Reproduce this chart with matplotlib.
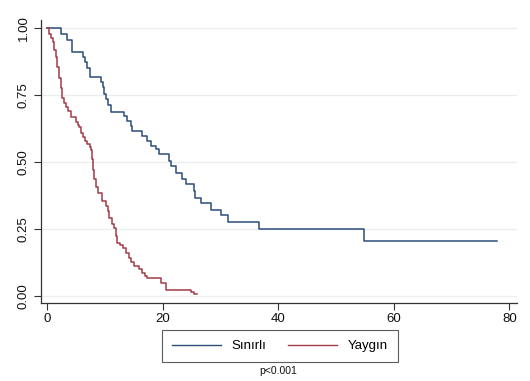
import matplotlib
matplotlib.use("Agg")
import matplotlib.pyplot as plt
from matplotlib.lines import Line2D

plt.rcParams['font.family'] = ['Liberation Sans', 'DejaVu Sans']

# Kaplan-Meier curves: event times and the survival estimate after each event,
# plus the time of last follow-up for each group
sinirli_t = [0, 2.4, 3.5, 4.3, 6.2, 6.6, 7.0, 7.5, 9.3, 9.7, 9.9, 10.2, 10.6, 11.1,
             13.4, 13.9, 14.5, 14.8, 16.5, 17.4, 18.0, 18.8, 19.4, 21.1, 21.5, 22.3,
             23.4, 24.0, 25.4, 25.7, 26.6, 28.4, 30.1, 31.4, 36.7, 54.8]
sinirli_s = [1.0, 0.979, 0.958, 0.912, 0.894, 0.875, 0.85, 0.819, 0.80, 0.78, 0.755,
             0.735, 0.713, 0.688, 0.672, 0.653, 0.634, 0.616, 0.597, 0.578, 0.559,
             0.547, 0.529, 0.504, 0.485, 0.46, 0.435, 0.416, 0.391, 0.366, 0.347,
             0.322, 0.30, 0.277, 0.248, 0.204]
sinirli_end = 77.8

yaygin_t = [0, 0.4, 0.7, 1.0, 1.3, 1.55, 1.8, 2.1, 2.4, 2.7, 3.0, 3.3, 3.7, 4.1, 5.0,
            5.3, 5.6, 5.9, 6.2, 6.6, 7.0, 7.4, 7.6, 7.8, 8.0, 8.2, 8.5, 8.8, 9.6, 10.2,
            10.5, 10.8, 11.2, 11.6, 11.9, 12.2, 12.6, 13.1, 13.6, 14.2, 14.6, 15.1,
            15.9, 16.5, 17.0, 17.4, 19.7, 20.6, 24.9, 25.4]
yaygin_s = [1.0, 0.98, 0.965, 0.95, 0.92, 0.894, 0.855, 0.813, 0.775, 0.738, 0.72,
            0.707, 0.69, 0.67, 0.65, 0.64, 0.63, 0.61, 0.593, 0.578, 0.567, 0.555,
            0.546, 0.51, 0.47, 0.435, 0.405, 0.385, 0.355, 0.335, 0.315, 0.292, 0.27,
            0.254, 0.225, 0.198, 0.19, 0.18, 0.161, 0.142, 0.125, 0.11, 0.099, 0.085,
            0.075, 0.065, 0.046, 0.021, 0.015, 0.006]
yaygin_end = 25.9

x_ticks = [0, 20, 40, 60, 80]
y_ticks = [0.0, 0.25, 0.50, 0.75, 1.00]
y_ticklabels = ["0.00", "0.25", "0.50", "0.75", "1.00"]
group_labels = ["Sınırlı", "Yaygın"]
p_text = "p<0.001"

blue = "#2b4d7a"
red = "#a33a47"

fig = plt.figure(figsize=(5.30, 3.81), dpi=100)
ax = fig.add_axes([0.0775, 0.2047, 0.898, 0.742])


def km_step(times, surv, end, color):
    ax.step(list(times) + [end], list(surv) + [surv[-1]], where='post',
            color=color, lw=1.1)


km_step(sinirli_t, sinirli_s, sinirli_end, blue)
km_step(yaygin_t, yaygin_s, yaygin_end, red)

ax.set_xlim(-1.0, 81.3)
ax.set_ylim(-0.0273, 1.03)
ax.set_xticks(x_ticks)
ax.set_yticks(y_ticks)
ax.set_yticklabels(y_ticklabels, rotation=90, va='center')
ax.tick_params(axis='both', labelsize=9.5, length=5, width=0.8, color='#333333',
               labelcolor='#111111')
ax.tick_params(axis='x', pad=2)
ax.tick_params(axis='y', pad=3)

ax.grid(axis='y', color='#e9eff1', lw=0.9)
ax.set_axisbelow(True)
for side in ['top', 'right']:
    ax.spines[side].set_visible(False)
for side in ['left', 'bottom']:
    ax.spines[side].set_color('#333333')
    ax.spines[side].set_linewidth(0.9)

handles = [Line2D([], [], color=blue, lw=1.0), Line2D([], [], color=red, lw=1.0)]
leg = fig.legend(handles, group_labels, loc='center', bbox_to_anchor=(0.528, 0.091),
                 ncol=2, fontsize=9.5, frameon=True, fancybox=False,
                 handlelength=3.7, handletextpad=0.8, columnspacing=1.7,
                 borderpad=0.75, edgecolor='#333333')
leg.get_frame().set_linewidth(0.8)

fig.text(0.524, 0.026, p_text, ha='center', va='center', fontsize=7.5, color='#111111')

fig.savefig("out.png", dpi=100, facecolor='white')
